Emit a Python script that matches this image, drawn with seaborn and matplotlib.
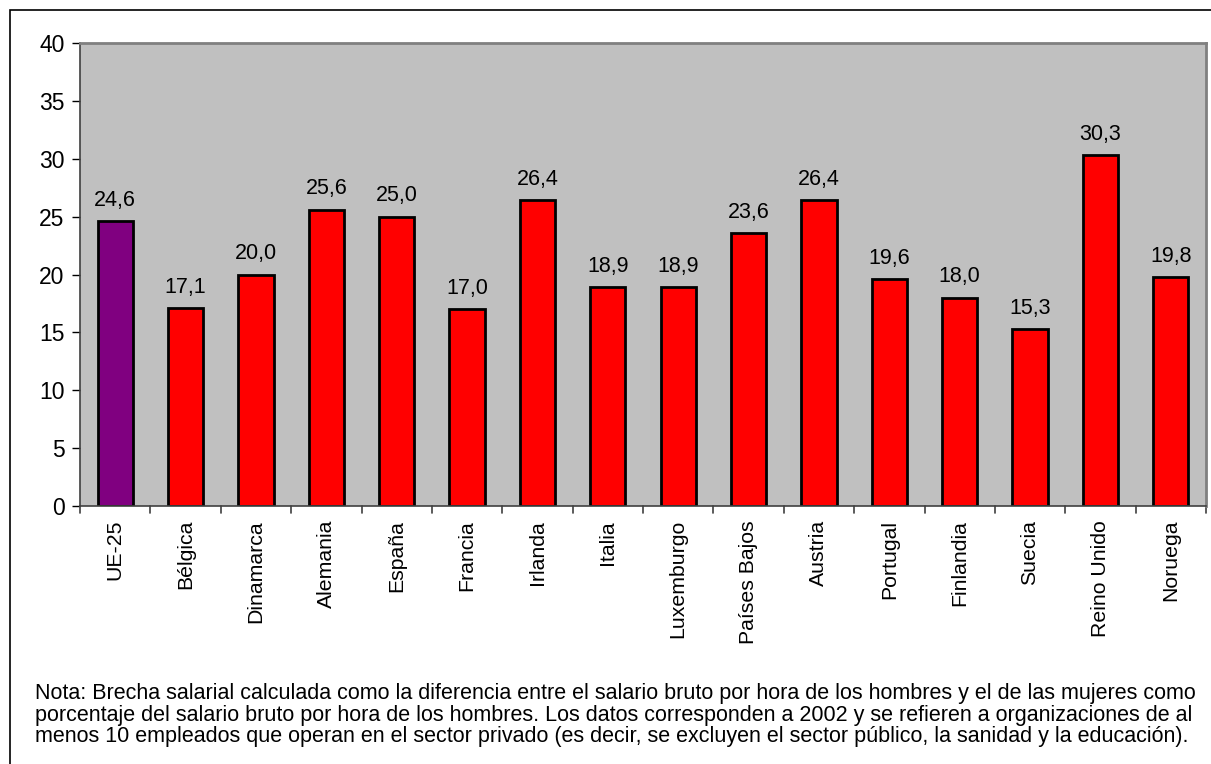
import matplotlib
matplotlib.use("Agg")
import matplotlib.pyplot as plt
import seaborn as sns
import pandas as pd
from matplotlib.patches import Rectangle

countries = ["UE-25", "Bélgica", "Dinamarca", "Alemania", "España", "Francia",
             "Irlanda", "Italia", "Luxemburgo", "Países Bajos", "Austria",
             "Portugal", "Finlandia", "Suecia", "Reino Unido", "Noruega"]
values = [24.6, 17.1, 20.0, 25.6, 25.0, 17.0, 26.4, 18.9, 18.9, 23.6,
          26.4, 19.6, 18.0, 15.3, 30.3, 19.8]
y_ticks = [0, 5, 10, 15, 20, 25, 30, 35, 40]
note = ("Nota: Brecha salarial calculada como la diferencia entre el salario bruto por hora de los hombres y el de las mujeres como\n"
        "porcentaje del salario bruto por hora de los hombres. Los datos corresponden a 2002 y se refieren a organizaciones de al\n"
        "menos 10 empleados que operan en el sector privado (es decir, se excluyen el sector público, la sanidad y la educación).")

sns.set_style("white")
plt.rcParams['font.family'] = ['Liberation Sans', 'DejaVu Sans']
plt.rcParams['text.color'] = 'black'
plt.rcParams['xtick.color'] = 'black'
plt.rcParams['ytick.color'] = 'black'

FS = 15.3

df = pd.DataFrame({"pais": countries, "valor": values})
colors = ["#800080"] + ["#FF0000"] * (len(countries) - 1)

fig = plt.figure(figsize=(12.11, 7.64), dpi=100)
ax = fig.add_axes([80/1211, 1 - 506/764, (1206-80)/1211, (506-43)/764])
ax.set_facecolor("#C0C0C0")

sns.barplot(data=df, x="pais", y="valor", hue="pais", palette=colors,
            legend=False, width=0.5, edgecolor="black", linewidth=2,
            saturation=1, ax=ax)

ax.set_ylim(0, 40)
ax.set_xlim(-0.5, len(countries) - 0.5)
ax.set_yticks(y_ticks)
ax.set_yticklabels([str(t) for t in y_ticks], fontsize=16.5)
ax.set_xticks([i for i in range(len(countries))])
ax.set_xticklabels(countries, rotation=90, fontsize=FS)
ax.tick_params(axis='x', length=0, pad=10)
ax.tick_params(axis='y', length=6, width=1, color='black', pad=5, direction='out', left=True)
# boundary tick marks between categories
for b in [i - 0.5 for i in range(len(countries) + 1)]:
    ax.plot([b, b], [0, -0.015], transform=ax.get_xaxis_transform(),
            color='#404040', lw=1.2, clip_on=False)
ax.set_xlabel("")
ax.set_ylabel("")

for s in ["top", "right"]:
    ax.spines[s].set_color("#808080")
    ax.spines[s].set_linewidth(2)
for s in ["left", "bottom"]:
    ax.spines[s].set_color("#404040")
    ax.spines[s].set_linewidth(1.2)
    ax.spines[s].set_visible(True)

for i, v in enumerate(values):
    ax.annotate(f"{v:.1f}".replace(".", ","), (i, v), xytext=(0, 11),
                textcoords="offset points", ha="center", va="baseline", fontsize=15.5)

fig.text(35/1211, 1 - 683/764, note, fontsize=15.5, ha="left", va="top",
         linespacing=1.04)

fig.patches.append(Rectangle((10/1211, -0.1), 1.2, 1 - 10/764 + 0.1,
                             transform=fig.transFigure, fill=False,
                             edgecolor="black", lw=1.2))

fig.savefig("out.png", dpi=100)
